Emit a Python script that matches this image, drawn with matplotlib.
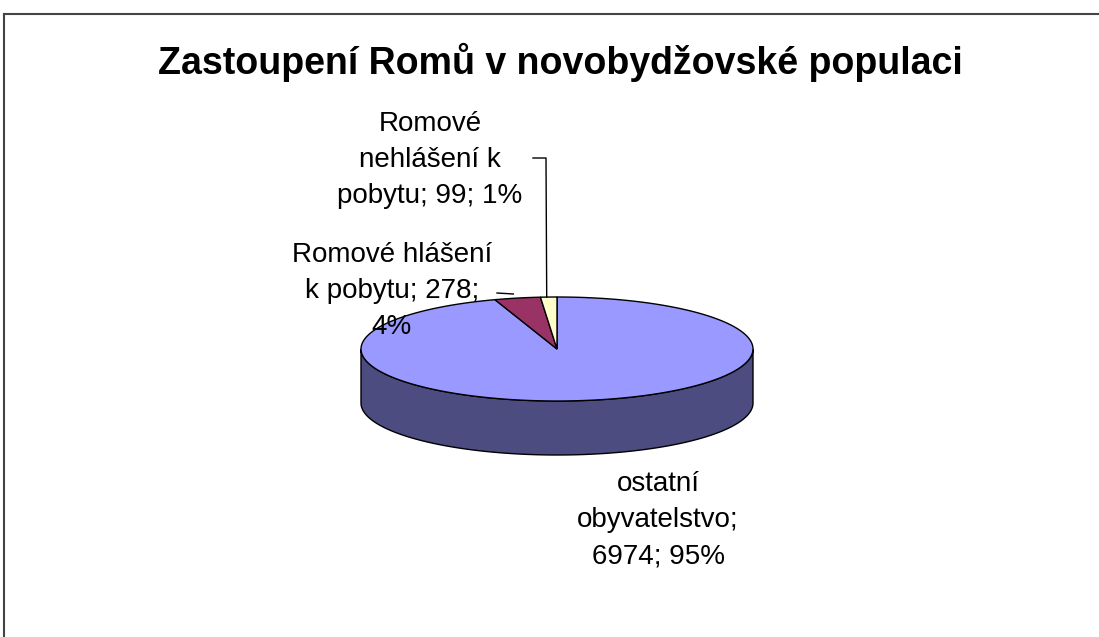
import numpy as np
import matplotlib.pyplot as plt
from matplotlib.patches import Polygon

plt.rcParams['font.family'] = ['Liberation Sans', 'DejaVu Sans']

# data
labels = ['ostatní\nobyvatelstvo;\n6974; 95%',
          'Romové hlášení\nk pobytu; 278;\n4%',
          'Romové\nnehlášení k\npobytu; 99; 1%']
values = [6974, 278, 99]
top_colors = ['#9999FF', '#993366', '#FFFFCC']
side_colors = ['#4C4C80', '#4D1A33', '#808066']
title = 'Zastoupení Romů v novobydžovské populaci'

# geometry of the 3D pie (pixel space)
cx, cy = 557, 349
rx, ry = 196, 52
depth = 54

W, H = 1099, 637
fig = plt.figure(figsize=(W / 100, H / 100), dpi=100)
ax = fig.add_axes([0, 0, 1, 1])
ax.set_xlim(0, W)
ax.set_ylim(H, 0)
ax.axis('off')


def pt(t, dz=0.0):
    t = np.radians(t)
    return cx + rx * np.cos(t), cy - ry * np.sin(t) + dz


def arc(t0, t1, dz=0.0, n=200):
    ts = np.linspace(t0, t1, n)
    return [pt(t, dz) for t in ts]


# slices go clockwise from 12 o'clock
fracs = np.array(values) / sum(values)
bounds = 90 - np.concatenate([[0], np.cumsum(fracs) * 360])

# side walls (front half only, 180..360 deg)
for i in range(len(values)):
    a0, a1 = bounds[i + 1], bounds[i]  # a0 < a1
    for off in (0, -360):
        lo = max(a0 + off, -180)
        hi = min(a1 + off, 0)
        if lo < hi:
            poly = arc(lo, hi) + arc(hi, lo, depth)
            ax.add_patch(Polygon(poly, closed=True, fc=side_colors[i],
                                 ec='black', lw=1, zorder=2))

# top faces
for i in range(len(values)):
    a0, a1 = bounds[i + 1], bounds[i]
    poly = [(cx, cy)] + arc(a1, a0)
    ax.add_patch(Polygon(poly, closed=True, fc=top_colors[i],
                         ec='black', lw=1, zorder=3))

# frame (top and left edges only)
ax.plot([4, W], [14, 14], color='#444444', lw=1.5, zorder=5)
ax.plot([4, 4], [14, H], color='#444444', lw=1.5, zorder=5)

ax.text(560, 62, title, fontsize=27, fontweight='bold', ha='center',
        va='center', zorder=6)

fs = 20
ls = 1.52
# ostatní
ax.text(658, 520, labels[0], fontsize=fs, ha='center', va='center',
        linespacing=ls, zorder=6)
# hlášení
ax.text(392, 291, labels[1], fontsize=fs, ha='center', va='center',
        linespacing=ls, zorder=6)
mx, my = pt((bounds[1] + bounds[2]) / 2)
ax.plot([497, mx - 4], [293, 294], color='black', lw=1, zorder=6)
# nehlášení
ax.text(430, 160, labels[2], fontsize=fs, ha='center', va='center',
        linespacing=ls, zorder=6)
mx, my = pt((bounds[2] + bounds[3]) / 2)
ax.plot([533, 546, mx - 2], [158, 158, my], color='black', lw=1, zorder=6)

fig.savefig('out.png', dpi=100, facecolor='white')
